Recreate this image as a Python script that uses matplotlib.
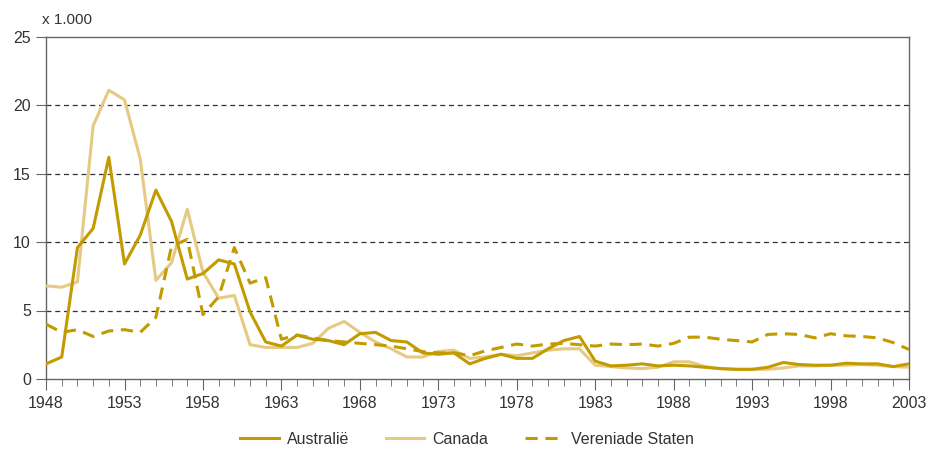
import numpy as np
import matplotlib
matplotlib.use('Agg')
import matplotlib.pyplot as plt

years = list(range(1948, 2004))

australie = [1.1, 1.6, 9.6, 11.0, 16.2, 8.4, 10.5, 13.8, 11.5, 7.3,
             7.7, 8.7, 8.4, 4.9, 2.7, 2.4, 3.2, 2.9, 2.8, 2.5,
             3.3, 3.4, 2.8, 2.7, 1.9, 1.8, 1.9, 1.1, 1.5, 1.8,
             1.5, 1.5, 2.2, 2.8, 3.1, 1.3, 0.95, 1.0, 1.1, 0.95,
             1.0, 0.95, 0.85, 0.75, 0.7, 0.7, 0.85, 1.2, 1.05, 1.0,
             1.0, 1.15, 1.1, 1.1, 0.9, 1.1]

canada = [6.8, 6.7, 7.1, 18.5, 21.1, 20.4, 16.1, 7.2, 8.5, 12.4,
          7.8, 5.9, 6.1, 2.5, 2.3, 2.3, 2.3, 2.6, 3.7, 4.2,
          3.4, 2.7, 2.2, 1.6, 1.6, 2.0, 2.1, 1.5, 1.6, 1.8,
          1.7, 1.9, 2.1, 2.2, 2.2, 1.0, 0.9, 0.8, 0.75, 0.85,
          1.25, 1.25, 0.9, 0.75, 0.7, 0.7, 0.7, 0.8, 0.95, 0.95,
          1.0, 1.0, 1.05, 1.0, 0.9, 0.85]

vs = [4.0, 3.4, 3.6, 3.1, 3.5, 3.6, 3.4, 4.5, 9.7, 10.2,
      4.7, 6.0, 9.6, 7.0, 7.4, 2.9, 3.2, 3.0, 2.8, 2.7,
      2.6, 2.5, 2.4, 2.2, 2.0, 1.9, 1.9, 1.7, 2.05, 2.3,
      2.55, 2.4, 2.55, 2.6, 2.5, 2.4, 2.55, 2.5, 2.55, 2.4,
      2.6, 3.05, 3.05, 2.9, 2.8, 2.7, 3.25, 3.3, 3.25, 3.0,
      3.3, 3.15, 3.1, 3.0, 2.65, 2.15]

dark = '#c29b00'
light = '#e6c983'
txt = '#333333'

plt.rcParams['font.family'] = ['Liberation Sans', 'DejaVu Sans']

fig = plt.figure(figsize=(9.4, 4.5), dpi=100)
ax = fig.add_axes([0.049, 0.158, 0.918, 0.76])

ax.plot(years, canada, color=light, lw=2.2, label='Canada', zorder=3)
ax.plot(years, australie, color=dark, lw=2.2, label='Australië', zorder=4)
ax.plot(years, vs, color=dark, lw=2.2, ls=(0, (4, 2.5)), label='Vereniade Staten', zorder=4)

ax.set_xlim(1948, 2003)
ax.set_ylim(0, 25)
ax.set_xticks(range(1948, 2004, 5))
ax.set_xticks(years, minor=True)
ax.set_yticks([0, 5, 10, 15, 20, 25])
for g in [5, 10, 15, 20]:
    ax.axhline(g, color='#333333', lw=0.9, ls=(0, (4, 3)), zorder=1)

for s in ax.spines.values():
    s.set_color('#666666')
    s.set_linewidth(1)
ax.tick_params(axis='x', which='major', length=8, color='#666666', labelsize=11.5,
               labelcolor=txt, pad=4)
ax.tick_params(axis='x', which='minor', length=5, color='#666666')
ax.tick_params(axis='y', length=7, color='#666666', labelsize=11.5, labelcolor=txt, pad=4)

ax.text(-0.005, 1.03, 'x 1.000', transform=ax.transAxes, fontsize=11, color=txt,
        ha='left', va='bottom')

h, l = ax.get_legend_handles_labels()
order = [1, 0, 2]
fig.legend([h[i] for i in order], [l[i] for i in order], loc='lower center',
           bbox_to_anchor=(0.497, -0.025), ncol=3, frameon=False, fontsize=11.5,
           handlelength=2.4, handletextpad=0.5, columnspacing=2.3, labelcolor=txt)

fig.savefig('out.png', dpi=100)
